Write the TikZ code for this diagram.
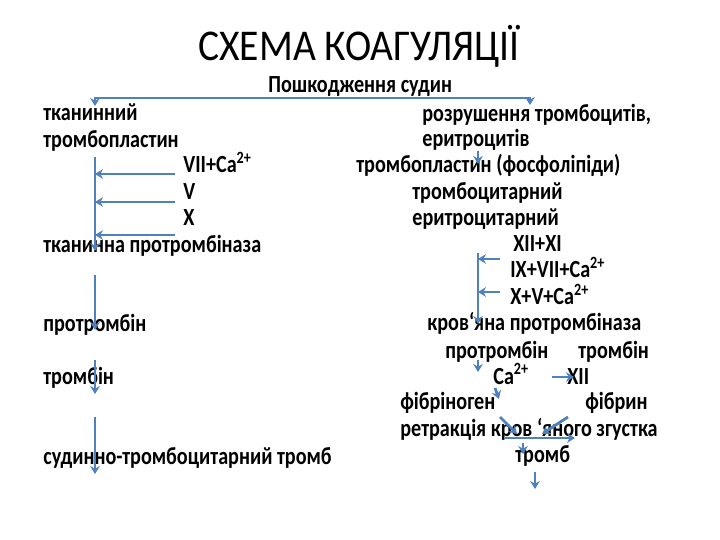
\documentclass[tikz,border=0pt]{standalone}
\usepackage{fontspec}
\setmainfont{Carlito}[FakeStretch=0.82]
\newfontfamily\titlefont{Carlito}[FakeStretch=0.9]
\usetikzlibrary{arrows.meta}
\definecolor{arrowblue}{RGB}{79,129,189}

\begin{document}
\begin{tikzpicture}[x=0.02cm, y=-0.02cm,
  txt/.style={anchor=base west, inner sep=0pt, font=\fontsize{14}{17}\selectfont\bfseries},
  arr/.style={arrowblue, line width=1.6pt, -{Stealth[length=4.5pt, width=5.5pt]}}]
\useasboundingbox (0,0) rectangle (720,540);
% title and starting point
\node[anchor=base west, inner sep=0pt, font=\fontsize{25}{30}\selectfont\titlefont] (title) at (198,61) {СХЕМА КОАГУЛЯЦІЇ};
\node[txt] (damage) at (268,93) {Пошкодження судин};
% left: tissue pathway
\node[txt] (tissue) at (43,121) {тканинний};
\node[txt] (tplast) at (43,148) {тромбопластин};
\node[txt] (f7) at (183,173) {VII+Ca\textsuperscript{2+}};
\node[txt] (f5) at (183,200) {V};
\node[txt] (f10) at (183,226) {X};
\node[txt] (tprot) at (43,253) {тканинна протромбіназа};
\node[txt] (prot) at (43,332) {протромбін};
\node[txt] (thr) at (43,384) {тромбін};
\node[txt] (vclot) at (43,464) {судинно-тромбоцитарний тромб};
% right: blood pathway
\node[txt] (destr) at (422,122) {розрушення тромбоцитів,};
\node[txt] (eryth) at (422,147) {еритроцитів};
\node[txt] (bplast) at (356,173) {тромбопластин (фосфоліпіди)};
\node[txt] (plat) at (412,200) {тромбоцитарний};
\node[txt] (erytr) at (412,226) {еритроцитарний};
\node[txt] (f1211) at (513,252) {XII+XI};
\node[txt] (f9) at (510,278) {IX+VII+Ca\textsuperscript{2+}};
\node[txt] (f10r) at (510,305) {X+V+Ca\textsuperscript{2+}};
\node[txt] (bprot) at (427,331) {кров‘яна протромбіназа};
\node[txt] (protr) at (445,358) {протромбін};
\node[txt] (thrr) at (578,358) {тромбін};
\node[txt] (ca) at (493,384) {Ca\textsuperscript{2+}};
\node[txt] (f12) at (567,384) {XII};
\node[txt] (fgen) at (400,410) {фібріноген};
\node[txt] (fibrin) at (585,410) {фібрин};
\node[txt] (retr) at (400,437) {ретракція кров ‘яного згустка};
\node[txt] (clot) at (515,462) {тромб};
% connector ends
\coordinate (fork) at (360,98);
\coordinate (tin) at (95,106);
\coordinate (bin) at (530,105);
\coordinate (lbar) at (95,157);
\coordinate (lend) at (95,251);
\coordinate (l7) at (175,174);
\coordinate (l5) at (175,202);
\coordinate (l10) at (175,235);
\coordinate (p1) at (95,275);
\coordinate (p2) at (95,330);
\coordinate (t1) at (95,360);
\coordinate (t2) at (95,394);
\coordinate (v1) at (95,417);
\coordinate (v2) at (95,474);
\coordinate (e1) at (478,151);
\coordinate (e2) at (478,164);
\coordinate (rbar) at (478,253);
\coordinate (rend) at (478,324);
\coordinate (r9) at (500,259);
\coordinate (r10) at (500,292);
\coordinate (q1) at (478,360);
\coordinate (q2) at (478,372);
\coordinate (c1) at (495,388);
\coordinate (c2) at (499,399);
\coordinate (x1) at (552,377);
\coordinate (x2) at (574,377);
\coordinate (g1) at (500,417);
\coordinate (g2) at (517,434);
\coordinate (b1) at (568,417);
\coordinate (b2) at (542,434);
\coordinate (h1) at (505,438);
\coordinate (h2) at (575,438);
\coordinate (k1) at (523,443);
\coordinate (k2) at (523,454);
\coordinate (m1) at (535,472);
\coordinate (m2) at (535,489);
% arrows
\draw[arr] (fork) -| (tin);
\draw[arr] (fork) -| (bin);
\draw[arr] (lbar) -- (lend);
\draw[arr] (l7) -- (l7 -| lbar);
\draw[arr] (l5) -- (l5 -| lbar);
\draw[arr] (l10) -- (l10 -| lbar);
\draw[arr] (p1) -- (p2);
\draw[arr] (t1) -- (t2);
\draw[arr] (v1) -- (v2);
\draw[arr] (e1) -- (e2);
\draw[arr] (rbar) -- (rend);
\draw[arr] (r9) -- (r9 -| rbar);
\draw[arr] (r10) -- (r10 -| rbar);
\draw[arr] (q1) -- (q2);
\draw[arr] (c1) -- (c2);
\draw[arr] (x1) -- (x2);
\draw[arr] (g1) -- (g2);
\draw[arr] (b1) -- (b2);
\draw[arr] (h1) -- (h2);
\draw[arr] (k1) -- (k2);
\draw[arr] (m1) -- (m2);
\end{tikzpicture}
\end{document}
